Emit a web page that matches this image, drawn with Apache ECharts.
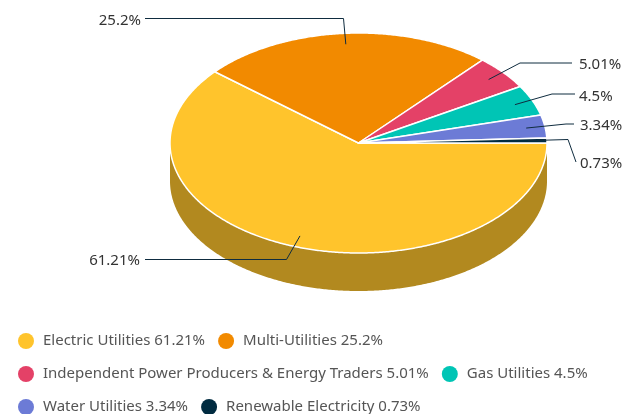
<!DOCTYPE html>
<html>
<head>
<meta charset="utf-8">
<style>
  html,body{margin:0;padding:0;background:#fff}
  #chart{width:626px;height:414px}
</style>
<script src="https://cdn.jsdelivr.net/npm/echarts@6/dist/echarts.min.js"></script>
</head>
<body>
<div id="chart"></div>
<script>
const categories = ['Electric Utilities','Multi-Utilities','Independent Power Producers & Energy Traders','Gas Utilities','Water Utilities','Renewable Electricity']
const shares = [61.21,25.2,5.01,4.5,3.34,0.73]
const colors = ['#ffc42c','#f28a00','#e44167','#00c5b5','#6c7bd6','#002b40']
const sideColors = ['#b2891f','#a96100','#a02e48','#008a7f','#4c5696','#001e2d']

// pie geometry, the chart lib has no tilted pie so the slices are custom series
const cx = 358.5, cy = 143, rx = 188.5, ry = 110, depth = 38

// elbow and end of each leader line, [elbowX, elbowY, endX, endY, textX, textY]
const leaders = [
  [286.5,259.5,145,259.5,140,261],
  [343.5,18.5,145,18.5,141,21],
  [520,63,572,63,579,65],
  [552,94,575,94,579,97],
  [566,124,574,124,580,126],
  [568,139.5,576,162,580,163.5]
]

function pt(deg,kx,ky,dy){
  const a = deg*Math.PI/180
  return [cx+Math.cos(a)*rx*kx, cy+Math.sin(a)*ry*ky+(dy||0)]
}

function arc(from,to,dy){
  const pts = []
  const n = Math.max(2,Math.ceil((to-from)*2))
  for(let i=0;i<=n;i++){
    pts.push(pt(from+(to-from)*i/n,1,1,dy))
  }
  return pts
}

function startOf(idx){
  let sum = 0
  for(let i=0;i<idx;i++) sum += shares[i]
  return sum/100*360
}

function sliceItem(idx){
  return function(params,api){
    const value = api.value(0)
    const from = startOf(idx)
    const to = from+value/100*360
    const mid = (from+to)/2
    const children = []

    // front wall, only the part of the slice between 0 and 180 deg shows
    if(from<180){
      const wallTo = Math.min(to,180)
      const top = arc(from,wallTo,0)
      const bottom = arc(from,wallTo,depth).reverse()
      children.push({
        type:'polygon',
        z2:1,
        shape:{points:top.concat(bottom)},
        style:{fill:sideColors[idx]}
      })
    }

    children.push({
      type:'polygon',
      z2:2,
      shape:{points:[[cx,cy]].concat(arc(from,to,0))},
      style:{fill:colors[idx],stroke:'#fff',lineWidth:1.5,lineJoin:'round'}
    })

    const l = leaders[idx]
    children.push({
      type:'polyline',
      z2:3,
      shape:{points:[pt(mid,0.9,0.9),[l[0],l[1]],[l[2],l[3]]]},
      style:{fill:null,stroke:'#0f2c3f',lineWidth:1}
    })
    children.push({
      type:'text',
      z2:4,
      x:l[4],
      y:l[5],
      style:{
        text:value+'%',
        fill:'#333',
        font:'15px "Noto Sans"',
        align:l[4]<cx?'right':'left',
        verticalAlign:'middle'
      }
    })
    return {type:'group',children:children}
  }
}

const chart = echarts.init(document.getElementById('chart'),null,{renderer:'canvas'})
chart.setOption({
  animation:false,
  backgroundColor:'#fff',
  legend:{
    left:18,
    top:331,
    width:606,
    icon:'circle',
    itemWidth:16,
    itemHeight:16,
    itemGap:13,
    selectedMode:false,
    padding:0,
    textStyle:{
      color:'#555',
      fontFamily:'Noto Sans',
      fontSize:15,
      lineHeight:18,
      padding:[2,0,0,4]
    }
  },
  series:categories.map((name,i)=>({
    type:'custom',
    name:name+' '+shares[i]+'%',
    coordinateSystem:'none',
    silent:true,
    itemStyle:{color:colors[i]},
    renderItem:sliceItem(i),
    data:[[shares[i]]]
  }))
})
</script>
</body>
</html>
